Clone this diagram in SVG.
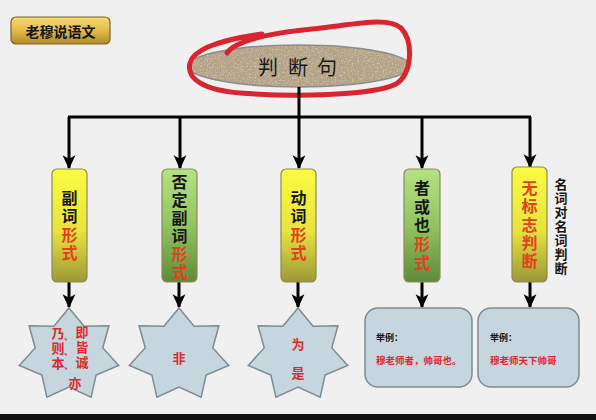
<svg xmlns="http://www.w3.org/2000/svg" width="596" height="420" viewBox="0 0 596 420">
<defs>
<style>
.cjk{font-family:"Noto Sans CJK SC","Noto Sans CJK JP",sans-serif;font-weight:bold;}
.vt{writing-mode:vertical-rl;}
.blk{fill:#151515;}
.red{fill:#e3401d;}
.rtx{fill:#dd2b2b;}
.box{stroke:#8d8a55;stroke-width:1.2;}
.star{fill:#c6d6df;stroke:#7e8b93;stroke-width:1.5;}
.card{fill:#c6d6df;stroke:#7e8b93;stroke-width:1.5;}
.wire{fill:none;stroke:#000;stroke-width:3;}
.arr{fill:none;stroke:#000;stroke-width:3;marker-end:url(#ah);}
</style>
<linearGradient id="gold" x1="0" y1="0" x2="0" y2="1">
<stop offset="0" stop-color="#f6dc74"/><stop offset="0.5" stop-color="#e2bb48"/><stop offset="1" stop-color="#b08a2c"/>
</linearGradient>
<linearGradient id="yel" x1="0" y1="0" x2="0" y2="1">
<stop offset="0" stop-color="#fbfb42"/><stop offset="0.55" stop-color="#e8e33e"/><stop offset="1" stop-color="#9c9838"/>
</linearGradient>
<linearGradient id="grn" x1="0" y1="0" x2="0" y2="1">
<stop offset="0" stop-color="#b4e284"/><stop offset="0.5" stop-color="#92c460"/><stop offset="1" stop-color="#5f8a3a"/>
</linearGradient>
<filter id="sand" x="0" y="0" width="1" height="1">
<feTurbulence type="fractalNoise" baseFrequency="0.65" numOctaves="2" seed="4" result="n"/>
<feColorMatrix in="n" type="matrix" values="0 0 0 0 0.55  0 0 0 0 0.47  0 0 0 0 0.37  2.4 0 0 0 -1.1" result="dark"/>
<feColorMatrix in="n" type="matrix" values="0 0 0 0 0.82  0 0 0 0 0.76  0 0 0 0 0.66  0 -2.4 0 0 1.05" result="lite"/>
<feMerge result="spk"><feMergeNode in="dark"/><feMergeNode in="lite"/></feMerge>
<feComposite in="spk" in2="SourceGraphic" operator="atop"/>
</filter>
<marker id="ah" markerUnits="userSpaceOnUse" markerWidth="14" markerHeight="14" viewBox="0 0 12 12" refX="11" refY="6" orient="auto">
<path d="M0,0.5 L12,6 L0,11.5 L3,6 Z" fill="#000"/>
</marker>
<path id="star7" d="M0,-47 L15.1,-28.8 L39.9,-29.3 L33.8,-7.1 L49.7,10.5 L27.1,20 L22.1,42.3 L0,32 L-22.1,42.3 L-27.1,20 L-49.7,10.5 L-33.8,-7.1 L-39.9,-29.3 L-15.1,-28.8 Z"/>
</defs>

<rect x="0" y="0" width="596" height="420" fill="#f0f0f0"/>
<rect x="0" y="414" width="596" height="6" fill="#111"/>

<g id="title">
<rect x="11" y="17" width="99" height="27" rx="5" fill="url(#gold)" stroke="#7a6226" stroke-width="1.2"/>
<text x="60.5" y="31" class="cjk blk" font-size="14" text-anchor="middle" dominant-baseline="central">老穆说语文</text>
</g>

<g id="root">
<ellipse cx="299" cy="66" rx="111" ry="21" fill="#b3a184" filter="url(#sand)"/>
<ellipse cx="299" cy="66" rx="111" ry="21" fill="none" stroke="#8c8c8c" stroke-width="1.5"/>
<text y="66" font-family="Noto Sans CJK SC, sans-serif" font-size="20" fill="#1a1a1a" dominant-baseline="central" text-anchor="middle"><tspan x="268">判</tspan><tspan x="298">断</tspan><tspan x="327">句</tspan></text>
<path d="M227,53 C236,40 272,33 312,29 S388,16 401,28 C414,42 412,74 396,84 C372,96 292,97 240,93 C204,90 186,79 190,63 C194,48 226,39 262,34" fill="none" stroke="#d8252f" stroke-width="5" stroke-linecap="round" stroke-linejoin="round"/>
</g>

<g id="connectors">
<path class="wire" d="M299,87 V117 M68,117 H531"/>
<path class="arr" d="M69,117 V168"/>
<path class="arr" d="M180,117 V168"/>
<path class="arr" d="M299,117 V168"/>
<path class="arr" d="M422,117 V168"/>
<path class="arr" d="M530,117 V167"/>
<path class="arr" d="M69,282 V307"/>
<path class="arr" d="M179,282 V307"/>
<path class="arr" d="M298,282 V307"/>
<path class="arr" d="M422,282 V307"/>
<path class="arr" d="M530,282 V307"/>
</g>

<g id="n1">
<rect class="box" x="52" y="169" width="35" height="113" rx="5" fill="url(#yel)"/>
<text class="cjk vt" x="69.5" y="190" font-size="16" letter-spacing="2.3"><tspan class="blk">副词</tspan><tspan class="red">形式</tspan></text>
</g>
<g id="n2">
<rect class="box" x="162" y="169" width="35" height="113" rx="5" fill="url(#grn)"/>
<text class="cjk vt" x="179.5" y="174" font-size="16" letter-spacing="2"><tspan class="blk">否定副词</tspan><tspan class="red">形式</tspan></text>
</g>
<g id="n3">
<rect class="box" x="281" y="169" width="35" height="113" rx="5" fill="url(#yel)"/>
<text class="cjk vt" x="298.5" y="190" font-size="16" letter-spacing="2.3"><tspan class="blk">动词</tspan><tspan class="red">形式</tspan></text>
</g>
<g id="n4">
<rect class="box" x="404" y="169" width="36" height="113" rx="5" fill="url(#grn)"/>
<text class="cjk vt" x="422" y="180" font-size="16" letter-spacing="2.7"><tspan class="blk">者或也</tspan><tspan class="red">形式</tspan></text>
</g>
<g id="n5">
<rect class="box" x="512" y="167" width="35" height="115" rx="5" fill="url(#yel)"/>
<text class="cjk vt red" x="529.5" y="180" font-size="16" letter-spacing="2.25">无标志判断</text>
</g>
<g id="n5note">
<text class="cjk vt blk" x="561" y="177.5" font-size="13" letter-spacing="1">名词对名词判断</text>
</g>

<g id="s1">
<use href="#star7" class="star" x="69" y="355"/>
<text class="cjk vt rtx" x="58" y="327" font-size="13" letter-spacing="2">乃则本</text>
<text class="cjk rtx" x="68.5" y="336" font-size="9" text-anchor="middle" dominant-baseline="central">、</text>
<text class="cjk rtx" x="68.5" y="351" font-size="9" text-anchor="middle" dominant-baseline="central">、</text>
<text class="cjk rtx" x="68.5" y="365" font-size="9" text-anchor="middle" dominant-baseline="central">、</text>
<text class="cjk vt rtx" x="82" y="326" font-size="13" letter-spacing="2">即皆诚</text>
<text class="cjk rtx" x="75" y="382" font-size="13" text-anchor="middle" dominant-baseline="central">亦</text>
</g>
<g id="s2">
<use href="#star7" class="star" x="179" y="355"/>
<text class="cjk rtx" font-size="13" x="179" y="357" text-anchor="middle" dominant-baseline="central">非</text>
</g>
<g id="s3">
<use href="#star7" class="star" x="298" y="355"/>
<text class="cjk rtx" font-size="13" x="298" y="343" text-anchor="middle" dominant-baseline="central">为</text>
<text class="cjk rtx" font-size="13" x="298" y="372" text-anchor="middle" dominant-baseline="central">是</text>
</g>

<g id="c1">
<rect class="card" x="365" y="308" width="107" height="79" rx="13"/>
<text class="cjk blk" font-size="9" x="376" y="337" dominant-baseline="central">举例：</text>
<text class="cjk rtx" font-size="9.5" x="376" y="360" dominant-baseline="central">穆老师者，帅哥也。</text>
</g>
<g id="c2">
<rect class="card" x="478" y="308" width="101" height="79" rx="13"/>
<text class="cjk blk" font-size="9" x="490" y="337" dominant-baseline="central">举例：</text>
<text class="cjk rtx" font-size="9.5" x="490" y="360" dominant-baseline="central">穆老师天下帅哥</text>
</g>
</svg>
